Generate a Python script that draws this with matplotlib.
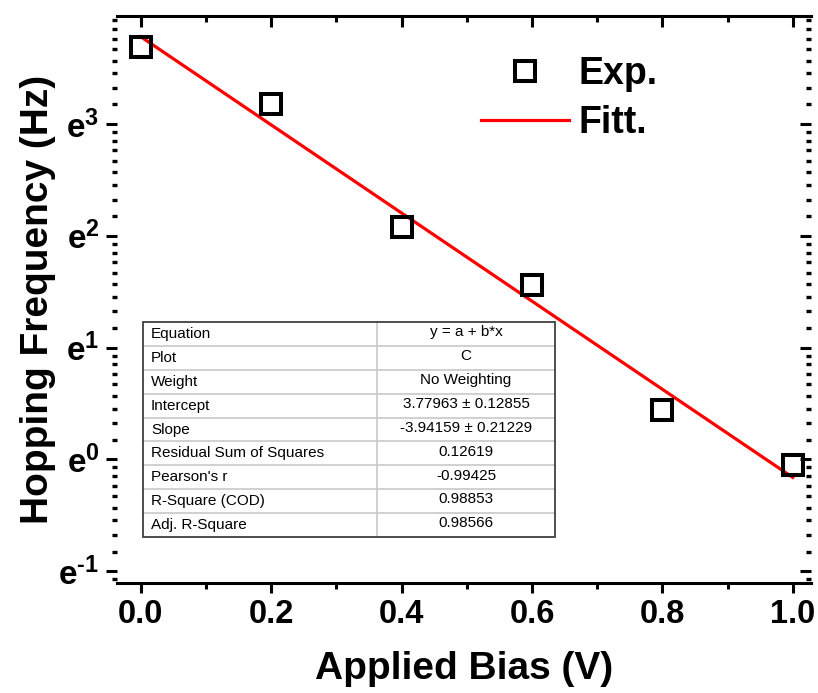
import numpy as np
import matplotlib.pyplot as plt
from matplotlib.ticker import FixedLocator, FuncFormatter, NullFormatter
from matplotlib.patches import Rectangle

# data
bias = [0.0, 0.2, 0.4, 0.6, 0.8, 1.0]          # V
freq = [40.0, 24.0, 8.0, 4.75, 1.55, 0.95]     # Hz
fit_a, fit_b = 3.77963, -3.94159               # ln(f) = a + b*x

table_keys = ['Equation', 'Plot', 'Weight', 'Intercept', 'Slope',
              'Residual Sum of Squares', "Pearson's r", 'R-Square (COD)',
              'Adj. R-Square']
table_vals = ['y = a + b*x', 'C', 'No Weighting', '3.77963 \u00b1 0.12855',
              '-3.94159 \u00b1 0.21229', '0.12619', '-0.99425', '0.98853',
              '0.98566']

plt.rcParams['font.family'] = 'Liberation Sans'
plt.rcParams['mathtext.fontset'] = 'custom'
plt.rcParams['mathtext.rm'] = 'Liberation Sans:bold'
plt.rcParams['mathtext.bf'] = 'Liberation Sans:bold'
plt.rcParams['mathtext.it'] = 'Liberation Sans:bold'

fig = plt.figure(figsize=(8.18, 6.93), dpi=100)
ax = fig.add_axes([0.1436, 0.1587, 0.8478, 0.8182])

xf = np.array([0.0, 1.0])
fit_line, = ax.plot(xf, np.exp(fit_a + fit_b * xf), color='red', lw=2.3, zorder=2)
pts, = ax.plot(bias, freq, 's', ms=14, mfc='none', mec='black', mew=2.9, zorder=3)

ax.set_yscale('log', base=np.e)
xlim = (-0.036, 1.028)
ylim = (np.exp(-1.107), np.exp(3.966))
ax.set_xlim(xlim)
ax.set_ylim(ylim)

major_y = [np.exp(n) for n in range(-1, 4)]
minor_y = [np.exp(n) * (1 + k * (np.e - 1) / 9) for n in range(-2, 4) for k in range(1, 9)]
minor_y = [v for v in minor_y if ylim[0] <= v <= ylim[1]]


def efmt(v, p):
    n = round(np.log(v))
    s = r'\text{-}%d' % -n if n < 0 else '%d' % n
    return r'$\mathbf{e^{%s}}$' % s


ax.yaxis.set_major_locator(FixedLocator(major_y))
ax.yaxis.set_minor_locator(FixedLocator(minor_y))
ax.yaxis.set_major_formatter(FuncFormatter(efmt))
ax.yaxis.set_minor_formatter(NullFormatter())
ax.xaxis.set_major_locator(FixedLocator(np.arange(0, 1.01, 0.2)))
ax.xaxis.set_minor_locator(FixedLocator(np.arange(0.1, 1.0, 0.2)))
ax.xaxis.set_major_formatter(FuncFormatter(lambda v, p: '%.1f' % v))

for s in ['left', 'right']:
    ax.spines[s].set_visible(False)
for s in ['top', 'bottom']:
    ax.spines[s].set_linewidth(2.2)

ax.tick_params(axis='x', which='major', direction='out', length=7.5, width=2.2,
               labelsize=23.5, pad=4)
ax.tick_params(axis='x', which='minor', direction='out', length=4, width=2.2)
ax.tick_params(axis='y', which='major', direction='out', length=8, width=2.2,
               labelsize=24, pad=5)
ax.tick_params(axis='y', which='minor', direction='out', length=3.6, width=2.4)
for lab in ax.get_xticklabels():
    lab.set_fontweight('bold')

# right side ticks (inward)
axr = ax.twinx()
axr.set_yscale('log', base=np.e)
axr.set_ylim(ylim)
axr.yaxis.set_major_locator(FixedLocator(major_y))
axr.yaxis.set_minor_locator(FixedLocator(minor_y))
axr.yaxis.set_major_formatter(NullFormatter())
axr.yaxis.set_minor_formatter(NullFormatter())
axr.tick_params(axis='y', which='major', direction='in', length=8, width=2.2)
axr.tick_params(axis='y', which='minor', direction='in', length=3.6, width=2.4)

# top ticks (inward)
axt = ax.twiny()
axt.set_xlim(xlim)
axt.xaxis.set_major_locator(FixedLocator(np.arange(0, 1.01, 0.2)))
axt.xaxis.set_minor_locator(FixedLocator(np.arange(0.1, 1.0, 0.2)))
axt.xaxis.set_major_formatter(NullFormatter())
axt.tick_params(axis='x', which='major', direction='in', length=8, width=2.2)
axt.tick_params(axis='x', which='minor', direction='in', length=4, width=2.2)

for a in (axr, axt):
    for s in a.spines.values():
        s.set_visible(False)

ax.set_xlabel('Applied Bias (V)', fontsize=28, fontweight='bold', labelpad=15)
ax.set_ylabel('Hopping Frequency (Hz)', fontsize=28, fontweight='bold', labelpad=2)

leg = ax.legend([pts, fit_line], ['Exp.', 'Fitt.'], loc='upper left',
                bbox_to_anchor=(481 / 818, 1 - 56 / 693), bbox_transform=fig.transFigure,
                frameon=False, borderpad=0, borderaxespad=0, handlelength=2.35,
                handletextpad=0.24, labelspacing=0.34, numpoints=1,
                prop={'size': 27, 'weight': 'bold'})

# fit parameter table
tx0, tx1, txs = 0.0368, 0.6308, 0.3742
ty0, ty1 = 0.0811, 0.4603
rh = (ty1 - ty0) / len(table_keys)
ax.add_patch(Rectangle((tx0, ty0), tx1 - tx0, ty1 - ty0, transform=ax.transAxes,
                       fc='white', ec='none', zorder=5))
for i in range(1, len(table_keys)):
    y = ty1 - i * rh
    ax.plot([tx0, tx1], [y, y], transform=ax.transAxes, color='#c8c8c8', lw=1.2, zorder=6)
ax.plot([txs, txs], [ty0, ty1], transform=ax.transAxes, color='#c8c8c8', lw=1.2, zorder=6)
ax.add_patch(Rectangle((tx0, ty0), tx1 - tx0, ty1 - ty0, transform=ax.transAxes,
                       fc='none', ec='#404040', lw=1.3, zorder=7))
for i, (k, v) in enumerate(zip(table_keys, table_vals)):
    yc = ty1 - (i + 0.5) * rh
    ax.text(tx0 + 0.0115, yc, k, transform=ax.transAxes, fontsize=11,
            ha='left', va='center', zorder=8)
    ax.text((txs + tx1) / 2, yc + 0.003, v, transform=ax.transAxes, fontsize=11,
            ha='center', va='center', zorder=8)

fig.savefig('out.png', dpi=100)
